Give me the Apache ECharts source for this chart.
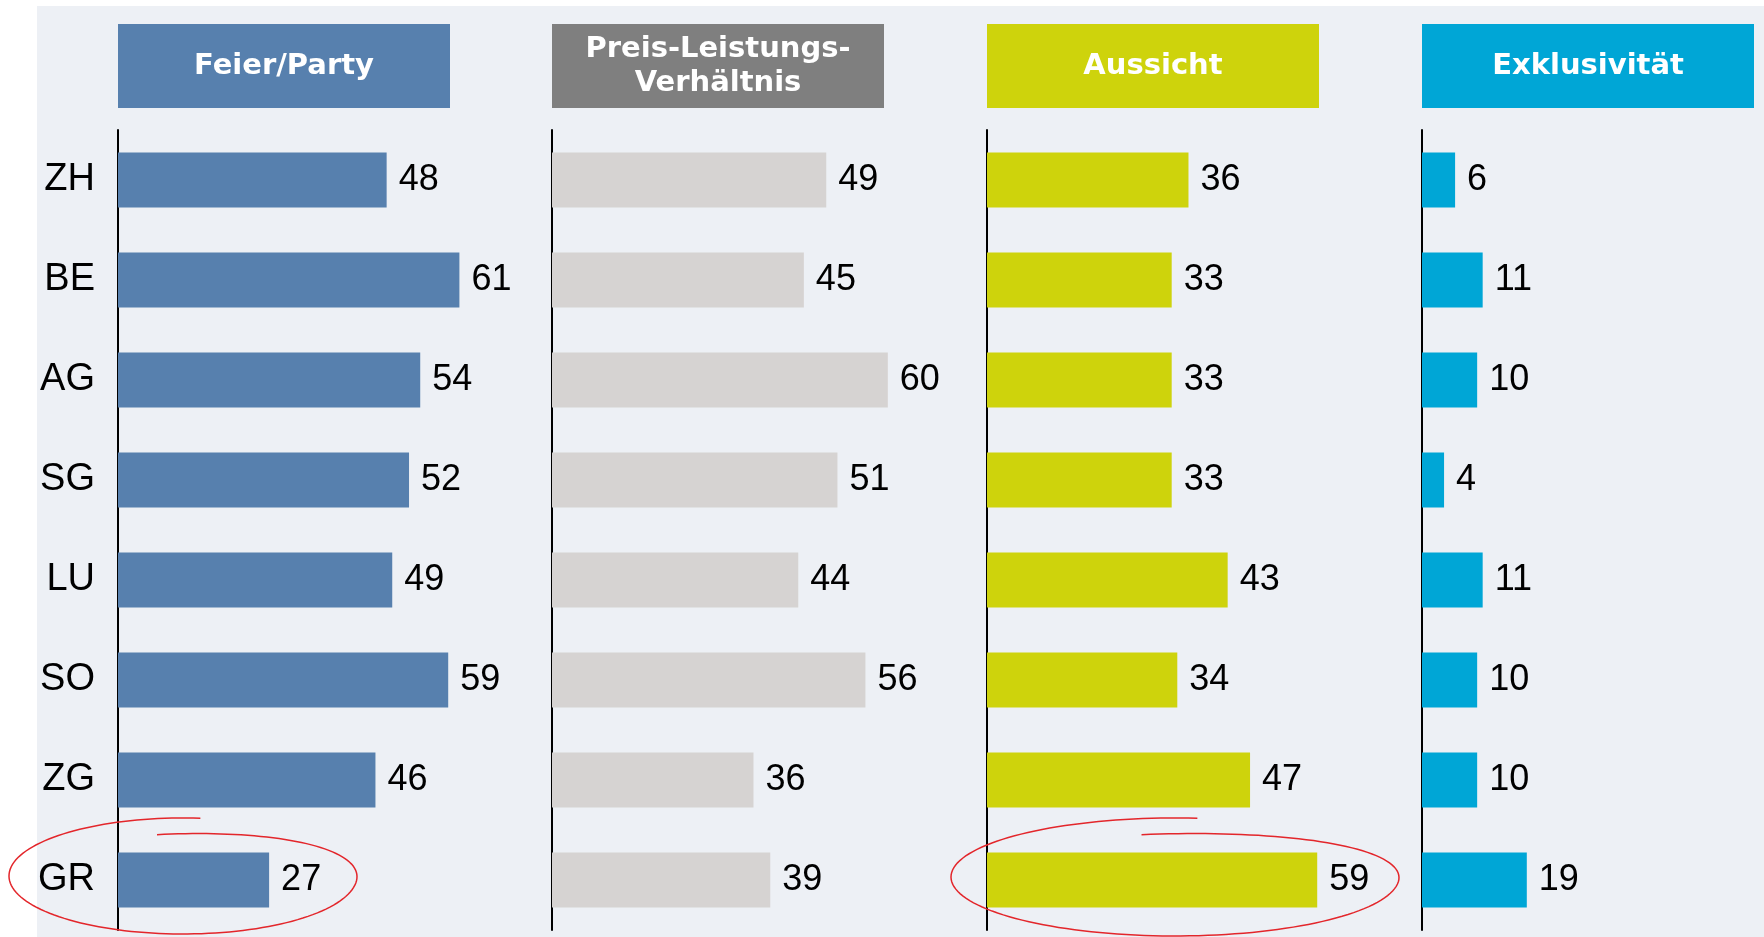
<!DOCTYPE html>
<html>
<head>
    <meta charset="UTF-8">
    <title>Gründe nach Kanton</title>
    <script src="https://cdn.jsdelivr.net/npm/echarts@6/dist/echarts.min.js"></script>
    <style>
        html, body { margin: 0; padding: 0; background: #ffffff; }
    </style>
</head>
<body>
    <div id="main" style="width: 1764px;height:937px;"></div>
    <script type="text/javascript">
        var categories = ['ZH', 'BE', 'AG', 'SG', 'LU', 'SO', 'ZG', 'GR'];
        var feierParty = [48, 61, 54, 52, 49, 59, 46, 27];
        var preisLeistung = [49, 45, 60, 51, 44, 56, 36, 39];
        var aussicht = [36, 33, 33, 33, 43, 34, 47, 59];
        var exklusivitaet = [6, 11, 10, 4, 11, 10, 10, 19];
        var panelTitles = ['Feier/Party', 'Preis-Leistungs-\nVerhältnis', 'Aussicht', 'Exklusivität'];

        var panelData = [feierParty, preisLeistung, aussicht, exklusivitaet];
        var barColors = ['#5780ae', '#d6d3d2', '#ced30c', '#00a6d6'];
        var headColors = ['#5780ae', '#7f7f7f', '#ced30c', '#00a6d6'];
        var panelLeft = [118, 552, 987, 1422];

        var myChart = echarts.init(document.getElementById('main'));

        // hand-drawn looking loop: goes round once and ends a bit lower than it started
        function loopPoints(cx, cy, rx, ry, drop) {
            var pts = [];
            var a0 = -Math.PI / 2 + 0.1;
            var a1 = a0 - 2 * Math.PI - 0.25;
            var n = 160;
            for (var i = 0; i <= n; i++) {
                var t = i / n;
                var a = a0 + (a1 - a0) * t;
                var k = t < 0.7 ? 0 : (t - 0.7) / 0.3;
                k = k * k * (3 - 2 * k);
                pts.push([cx + rx * Math.cos(a), cy + ry * Math.sin(a) + drop * k]);
            }
            return pts;
        }

        var grids = [], xAxes = [], yAxes = [], series = [], graphics = [];

        graphics.push({
            type: 'rect', z: -10,
            shape: { x: 37, y: 6, width: 1727, height: 931 },
            style: { fill: '#edf0f5' }
        });

        panelData.forEach(function (values, i) {
            grids.push({ left: panelLeft[i], top: 130, width: 347, height: 800 });
            xAxes.push({
                type: 'value', gridIndex: i, min: 0, max: 62,
                show: false, splitLine: { show: false }
            });
            yAxes.push({
                type: 'category', gridIndex: i, data: categories, inverse: true,
                axisLine: { show: true, lineStyle: { color: '#000000', width: 2 } },
                axisTick: { show: false },
                axisLabel: {
                    show: i === 0, margin: 23, color: '#000000',
                    fontFamily: 'Liberation Sans', fontSize: 38, padding: [8, 0, 0, 0]
                }
            });
            series.push({
                type: 'bar', xAxisIndex: i, yAxisIndex: i,
                data: values, barCategoryGap: '45%', clip: false,
                itemStyle: { color: barColors[i] },
                label: {
                    show: true, position: 'right', distance: 12,
                    color: '#000000', fontFamily: 'Liberation Sans', fontSize: 36,
                    padding: [8, 0, 0, 0]
                },
                silent: true
            });
            graphics.push({
                type: 'rect',
                shape: { x: panelLeft[i], y: 24, width: 332, height: 84 },
                style: { fill: headColors[i] },
                textContent: {
                    style: {
                        text: panelTitles[i], fill: '#ffffff',
                        font: 'bold 29px "DejaVu Sans"', lineHeight: 34, align: 'center'
                    }
                },
                textConfig: { position: 'inside' }
            });
        });

        graphics.push({
            type: 'polyline', z: 20,
            shape: { points: loopPoints(183, 876, 174, 58, 16) },
            style: { stroke: '#e3262b', lineWidth: 1.5, fill: null }
        });
        graphics.push({
            type: 'polyline', z: 20,
            shape: { points: loopPoints(1175, 877, 224, 59, 16) },
            style: { stroke: '#e3262b', lineWidth: 1.5, fill: null }
        });

        var option = {
            animation: false,
            grid: grids,
            xAxis: xAxes,
            yAxis: yAxes,
            series: series,
            graphic: graphics
        };

        myChart.setOption(option);
    </script>
</body>
</html>
